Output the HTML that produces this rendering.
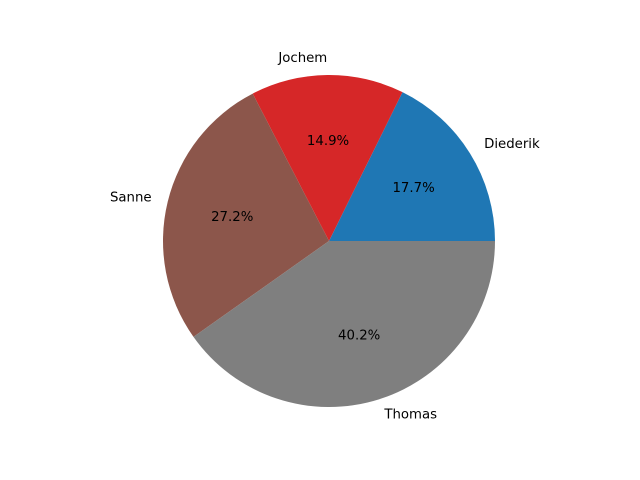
<!DOCTYPE html>
<html><head><meta charset="utf-8"><style>
html,body{margin:0;padding:0;background:#fff}
svg{display:block;font-family:"DejaVu Sans","Liberation Sans",sans-serif}
</style></head><body>
<svg width="640" height="480" viewBox="0 0 640 480">
<g id="pie"></g>
</svg>
<script>
const labels = ["Diederik", "Jochem", "Sanne", "Thomas"];
const values = [17.7, 14.9, 27.2, 40.2];
const colors = ["#1f77b4", "#d62728", "#8c564b", "#7f7f7f"];
const cx = 329, cy = 241, R = 166;
const ns = "http://www.w3.org/2000/svg";
const g = document.getElementById("pie");
const total = values.reduce((a, b) => a + b, 0);
let start = 0;
function pt(a, r) { return [cx + r * Math.cos(a), cy - r * Math.sin(a)]; }
values.forEach((v, i) => {
  const sweep = v / total * 2 * Math.PI;
  const end = start + sweep;
  const [x1, y1] = pt(start, R), [x2, y2] = pt(end, R);
  const large = sweep > Math.PI ? 1 : 0;
  const p = document.createElementNS(ns, "path");
  p.setAttribute("d", `M${cx},${cy} L${x1},${y1} A${R},${R} 0 ${large} 0 ${x2},${y2} Z`);
  p.setAttribute("fill", colors[i]);
  
  
  g.appendChild(p);
  const mid = start + sweep / 2;
  const [lx, ly] = pt(mid, R * 1.1);
  const t = document.createElementNS(ns, "text");
  t.setAttribute("x", lx); t.setAttribute("y", ly);
  t.setAttribute("font-size", "13.3");
  t.setAttribute("dominant-baseline", "central");
  t.setAttribute("text-anchor", Math.cos(mid) >= 0 ? "start" : "end");
  t.textContent = labels[i];
  
  
  g.appendChild(t);
  const [px, py] = pt(mid, R * 0.6);
  const tp = document.createElementNS(ns, "text");
  tp.setAttribute("x", px); tp.setAttribute("y", py);
  tp.setAttribute("font-size", "13.3");
  tp.setAttribute("dominant-baseline", "central");
  tp.setAttribute("text-anchor", "middle");
  tp.textContent = (v / total * 100).toFixed(1) + "%";
  
  
  g.appendChild(tp);
  start = end;
});
</script>
</body></html>
